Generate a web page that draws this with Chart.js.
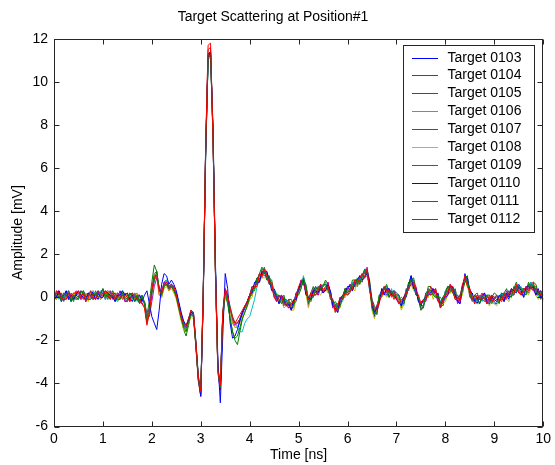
<!DOCTYPE html>
<html>
<head>
<meta charset="utf-8">
<script src="https://cdn.jsdelivr.net/npm/chart.js@4.4.1/dist/chart.umd.min.js"></script>
<style>
  html, body { margin: 0; padding: 0; background: #fff; }
  #wrap { width: 555px; height: 465px; }
</style>
</head>
<body>
<div id="wrap"><canvas id="chart" width="555" height="465"></canvas></div>
<script>
// time axis (ns)
const TIME_NS = [
  0, 0.05, 0.1, 0.15, 0.2, 0.25, 0.3, 0.35, 0.4, 0.45,
  0.5, 0.55, 0.6, 0.65, 0.7, 0.75, 0.8, 0.85, 0.9, 0.95,
  1.0, 1.05, 1.1, 1.15, 1.2, 1.25, 1.3, 1.35, 1.4, 1.45,
  1.5, 1.55, 1.6, 1.65, 1.7, 1.75, 1.8,
  1.85, 1.9, 1.95, 2.0, 2.05, 2.1, 2.15, 2.2, 2.25, 2.3,
  2.35, 2.4, 2.45, 2.5, 2.55, 2.6, 2.65, 2.7, 2.75, 2.8,
  2.85, 2.9, 2.95, 3.0, 3.05, 3.1, 3.15, 3.2, 3.25, 3.3,
  3.35, 3.4, 3.45, 3.5, 3.55, 3.6, 3.65, 3.7, 3.75, 3.8,
  3.85, 3.9, 3.95, 4.0,
  4.05, 4.1, 4.15, 4.2, 4.25, 4.3, 4.35, 4.4, 4.45, 4.5,
  4.55, 4.6, 4.65, 4.7, 4.75, 4.8, 4.85, 4.9, 4.95, 5.0,
  5.05, 5.1, 5.15, 5.2, 5.25, 5.3, 5.35, 5.4, 5.45, 5.5,
  5.55, 5.6, 5.65, 5.7, 5.75, 5.8, 5.85, 5.9, 5.95, 6.0,
  6.05, 6.1, 6.15, 6.2, 6.25, 6.3, 6.35, 6.4, 6.45, 6.5,
  6.55, 6.6, 6.65, 6.7, 6.75, 6.8, 6.85, 6.9, 6.95, 7.0,
  7.05, 7.1, 7.15, 7.2, 7.25, 7.3, 7.35, 7.4, 7.45, 7.5,
  7.55, 7.6, 7.65, 7.7, 7.75, 7.8, 7.85, 7.9, 7.95, 8.0,
  8.05, 8.1, 8.15, 8.2, 8.25, 8.3, 8.35, 8.4, 8.45, 8.5,
  8.55, 8.6, 8.65, 8.7, 8.75, 8.8, 8.85, 8.9, 8.95, 9.0,
  9.05, 9.1, 9.15, 9.2, 9.25, 9.3, 9.35, 9.4, 9.45, 9.5,
  9.55, 9.6, 9.65, 9.7, 9.75, 9.8, 9.85, 9.9, 9.95, 10.0,
];

const TARGET_LABELS = [
  'Target 0103', 'Target 0104', 'Target 0105', 'Target 0106', 'Target 0107',
  'Target 0108', 'Target 0109', 'Target 0110', 'Target 0111', 'Target 0112',
];

// amplitudes in mV, one value per TIME_NS entry
const TARGET_0103 = [
  0.2, 0.0, 0.2, -0.2, 0.0, 0.3, 0.0, -0.2, 0.1, 0.1,
  0.0, 0.3, 0.1, -0.2, 0.1, 0.0, 0.3, 0.1, -0.1, 0.2,
  0.2, -0.1, 0.3, 0.2, 0.0, 0.0, -0.2, 0.3, 0.0, 0.1,
  0.1, 0.0, -0.2, 0.2, -0.1, 0.0, -0.1,
  -0.2, -0.9, -0.6, 0.3, 0.8, 1.0, 0.4, 0.2, 0.7, 0.8,
  0.5, 0.6, 0.5, 0.0, -0.5, -1.0, -1.3, -1.5, -1.0, -0.7,
  -0.7, -2.1, -3.7, -4.5, 0.1, 6.9, 11.3, 11.4, 7.5, 1.3,
  -3.3, -4.3, -0.9, 0.3, 0.1, -0.6, -1.2, -1.4, -1.4, -1.1,
  -0.8, -0.5, -0.3, 0.1,
  0.1, 0.6, 0.9, 0.8, 1.1, 1.0, 1.1, 0.9, 0.5, 0.4,
  0.1, -0.3, -0.1, -0.1, -0.1, -0.4, -0.6, -0.3, 0.2, 0.2,
  0.6, 0.9, 0.2, 0.0, -0.2, 0.3, 0.5, 0.2, 0.4, 0.2,
  0.4, 0.4, 0.3, -0.3, -0.4, -0.3, -0.4, 0.1, 0.1, 0.3,
  0.6, 0.5, 0.5, 0.6, 1.0, 0.9, 1.2, 1.0, 0.6, -0.4,
  -0.9, -0.4, 0.0, 0.2, 0.2, 0.1, 0.3, 0.2, 0.3, 0.2,
  0.1, -0.4, -0.1, 0.0, 0.5, 1.0, 0.5, 0.1, 0.0, -0.4,
  -0.4, 0.2, 0.2, 0.1, 0.3, 0.1, 0.2, -0.3, -0.4, 0.2,
  0.3, 0.2, 0.5, 0.2, -0.2, -0.1, 0.2, 1.1, 0.6, 0.3,
  0.1, -0.1, -0.3, 0.1, -0.1, 0.1, -0.1, -0.2, 0.1, -0.3,
  -0.3, 0.0, 0.2, -0.1, 0.1, -0.1, 0.3, 0.4, 0.4, 0.6,
  0.4, 0.0, 0.3, 0.5, 0.7, 0.4, 0.1, 0.2, 0.3, -0.1,
];
const TARGET_0104 = [
  -0.1, 0.3, 0.1, -0.2, 0.1, 0.0, 0.3, 0.0, -0.2, 0.2,
  0.1, -0.1, 0.3, 0.1, -0.1, 0.1, -0.1, 0.3, 0.0, 0.2,
  0.3, 0.1, -0.1, 0.3, 0.0, 0.1, 0.0, 0.0, 0.3, -0.2,
  -0.2, 0.1, 0.2, -0.1, 0.0, -0.3, 0.0,
  -0.2, -0.8, -0.2, 0.7, 1.5, 1.2, 0.3, 0.0, 0.5, 0.6,
  0.5, 0.5, 0.3, 0.1, -0.4, -1.0, -1.5, -1.8, -1.3, -0.8,
  -0.9, -2.2, -3.8, -4.5, 0.0, 6.6, 11.0, 11.3, 7.8, 1.4,
  -3.2, -4.2, -1.0, 0.1, -0.3, -1.0, -1.6, -2.0, -2.2, -1.6,
  -1.0, -0.7, -0.4, -0.1,
  0.5, 0.4, 0.8, 1.1, 1.4, 1.2, 0.9, 0.9, 0.8, 0.2,
  0.1, 0.1, -0.1, 0.1, -0.4, -0.1, -0.1, -0.3, 0.1, 0.2,
  0.6, 0.8, 0.6, -0.1, 0.2, 0.5, 0.2, 0.5, 0.4, 0.5,
  0.8, 0.6, 0.1, -0.3, -0.2, -0.4, 0.0, -0.1, 0.4, 0.3,
  0.3, 0.8, 0.8, 0.8, 0.8, 0.8, 1.3, 1.3, 0.8, -0.1,
  -0.4, -0.6, 0.1, 0.1, 0.4, 0.6, 0.2, 0.1, 0.3, 0.2,
  -0.1, 0.0, -0.1, 0.1, 0.7, 0.8, 0.9, 0.4, -0.2, -0.2,
  -0.2, -0.1, 0.5, 0.5, 0.2, 0.3, -0.1, 0.0, -0.2, 0.3,
  0.5, 0.5, 0.2, 0.4, -0.1, 0.1, 0.5, 0.9, 1.0, 0.1,
  -0.1, 0.1, 0.2, -0.1, 0.1, -0.1, 0.1, 0.1, 0.0, 0.2,
  0.1, -0.2, 0.1, 0.2, 0.4, 0.1, 0.1, 0.4, 0.7, 0.4,
  0.4, 0.4, 0.3, 0.7, 0.4, 0.7, 0.6, 0.2, 0.2, -0.1,
];
const TARGET_0105 = [
  0.0, -0.1, 0.3, 0.1, -0.1, 0.1, -0.1, 0.2, -0.1, 0.2,
  0.2, 0.1, -0.1, 0.2, -0.1, 0.2, 0.1, 0.0, 0.3, -0.1,
  0.0, 0.2, 0.3, 0.0, 0.1, -0.2, 0.1, 0.2, 0.1, 0.2,
  0.1, -0.2, 0.0, 0.1, 0.2, -0.2, -0.3,
  -0.4, -1.2, -0.6, 0.3, 0.9, 1.0, 0.1, 0.1, 0.6, 0.6,
  0.3, 0.5, 0.4, 0.1, -0.3, -0.9, -1.2, -1.3, -1.1, -0.6,
  -0.7, -2.3, -3.9, -4.6, -0.1, 6.9, 11.5, 11.6, 7.6, 1.1,
  -3.5, -4.3, -0.8, 0.2, -0.1, -0.5, -1.0, -1.2, -1.2, -1.0,
  -0.7, -0.5, -0.2, 0.1,
  0.3, 0.6, 0.6, 1.1, 0.9, 1.3, 1.2, 0.7, 0.5, 0.0,
  -0.1, -0.2, 0.1, -0.2, -0.2, -0.1, -0.6, -0.2, -0.1, 0.3,
  0.8, 0.8, 0.2, -0.3, 0.2, 0.2, 0.4, 0.1, 0.5, 0.3,
  0.3, 0.7, 0.2, -0.3, -0.6, -0.7, -0.1, 0.0, 0.4, 0.4,
  0.6, 0.4, 0.7, 0.5, 0.8, 1.1, 1.0, 1.0, 0.6, -0.3,
  -0.8, -0.4, -0.1, 0.0, 0.4, 0.2, 0.4, 0.2, -0.1, 0.2,
  -0.1, -0.5, 0.0, 0.3, 0.4, 0.8, 0.4, 0.5, -0.2, -0.3,
  -0.2, 0.0, 0.0, 0.5, 0.1, 0.3, 0.0, -0.4, 0.0, -0.1,
  0.1, 0.5, 0.5, 0.0, -0.1, -0.3, 0.5, 1.0, 0.7, 0.4,
  0.1, -0.3, -0.1, 0.0, 0.2, -0.1, -0.3, -0.1, 0.1, -0.2,
  -0.1, 0.0, -0.1, 0.2, -0.1, 0.2, 0.4, 0.2, 0.4, 0.2,
  0.2, 0.1, 0.5, 0.4, 0.6, 0.7, 0.1, 0.3, 0.0, 0.0,
];
const TARGET_0106 = [
  0.1, 0.1, -0.1, 0.2, -0.1, 0.2, 0.1, -0.1, 0.2, -0.1,
  -0.1, 0.2, 0.3, -0.1, 0.0, -0.1, 0.2, 0.2, 0.1, 0.3,
  0.3, -0.1, 0.1, 0.2, 0.3, -0.1, -0.2, 0.1, 0.3, -0.1,
  0.0, 0.1, -0.1, 0.2, -0.2, 0.0, 0.1,
  -0.3, -0.9, -0.7, 0.1, 0.8, 1.0, 0.4, 0.2, 0.5, 0.8,
  0.5, 0.6, 0.4, 0.2, -0.3, -0.8, -1.2, -1.5, -1.2, -0.8,
  -0.8, -2.0, -3.6, -4.4, 0.2, 7.0, 11.2, 11.3, 7.4, 1.2,
  -3.4, -4.1, -0.8, 0.1, 0.0, -0.4, -0.9, -1.2, -1.4, -1.6,
  -1.6, -1.2, -1.0, -0.9,
  -0.5, -0.1, 0.5, 0.8, 1.0, 1.2, 0.8, 0.9, 0.4, 0.2,
  0.2, -0.1, -0.2, -0.3, -0.1, -0.3, -0.3, -0.5, 0.1, 0.2,
  0.4, 1.0, 0.4, -0.2, -0.1, 0.0, 0.4, 0.3, 0.6, 0.5,
  0.7, 0.4, 0.2, -0.5, -0.5, -0.3, -0.3, -0.2, 0.3, 0.3,
  0.3, 0.7, 0.6, 0.5, 0.9, 0.8, 1.3, 1.2, 0.3, -0.2,
  -0.7, -0.8, 0.1, 0.3, 0.2, 0.3, 0.0, 0.4, 0.0, 0.2,
  0.0, -0.3, -0.4, 0.4, 0.4, 0.9, 0.6, 0.2, 0.1, -0.6,
  -0.5, 0.1, 0.4, 0.2, 0.2, 0.0, 0.1, -0.2, -0.2, 0.3,
  0.4, 0.2, 0.3, 0.2, 0.1, -0.2, 0.2, 0.9, 0.9, 0.1,
  0.0, 0.0, -0.2, 0.1, -0.2, 0.1, 0.1, -0.2, -0.1, -0.3,
  -0.2, -0.2, 0.2, 0.0, 0.2, 0.3, 0.0, 0.4, 0.3, 0.4,
  0.5, 0.2, 0.2, 0.3, 0.7, 0.5, 0.4, 0.0, 0.2, -0.1,
];
const TARGET_0107 = [
  -0.2, 0.2, 0.3, -0.1, 0.0, -0.1, 0.2, 0.1, 0.0, 0.3,
  0.2, -0.1, 0.1, 0.1, 0.2, 0.0, -0.1, 0.1, 0.3, 0.0,
  0.2, 0.2, 0.0, 0.3, -0.1, 0.1, 0.2, 0.0, 0.1, -0.2,
  -0.1, -0.1, 0.2, 0.0, 0.1, 0.1, -0.3,
  -0.2, -1.0, -0.9, -0.2, 0.5, 0.9, 0.5, 0.2, 0.7, 0.6,
  0.4, 0.6, 0.4, 0.1, -0.4, -0.9, -1.3, -1.4, -1.1, -0.7,
  -0.8, -2.2, -3.8, -4.5, 0.0, 6.8, 11.1, 11.3, 7.5, 1.2,
  -3.4, -4.2, -0.8, 0.3, 0.0, -0.6, -1.1, -1.3, -1.2, -1.0,
  -0.7, -0.5, -0.2, 0.1,
  0.5, 0.5, 0.6, 0.8, 1.3, 1.2, 1.1, 0.6, 0.6, 0.1,
  -0.2, 0.1, 0.0, -0.2, -0.4, -0.5, -0.3, -0.3, 0.2, 0.4,
  0.8, 0.7, 0.4, -0.4, 0.0, 0.4, 0.2, 0.1, 0.5, 0.4,
  0.4, 0.7, 0.1, -0.5, -0.4, -0.6, 0.0, 0.0, 0.0, 0.4,
  0.4, 0.3, 0.8, 0.8, 0.7, 0.9, 0.9, 1.4, 0.4, -0.2,
  -0.6, -0.6, -0.3, 0.4, 0.2, 0.4, 0.2, 0.1, 0.3, -0.1,
  -0.3, -0.2, 0.0, 0.1, 0.5, 0.6, 0.7, 0.4, -0.1, -0.2,
  -0.2, -0.2, 0.2, 0.4, 0.4, 0.1, -0.2, -0.3, 0.0, 0.0,
  0.3, 0.5, 0.2, 0.3, -0.3, 0.0, 0.6, 0.8, 0.7, 0.0,
  -0.1, -0.2, 0.1, -0.1, 0.1, 0.2, -0.3, 0.0, -0.2, -0.1,
  0.1, -0.1, -0.1, -0.1, 0.3, 0.1, 0.3, 0.1, 0.5, 0.3,
  0.1, 0.4, 0.4, 0.4, 0.4, 0.3, 0.4, 0.2, 0.3, 0.1,
];
const TARGET_0108 = [
  0.1, -0.1, 0.1, 0.1, 0.2, 0.0, -0.1, 0.0, 0.2, 0.0,
  0.1, 0.2, 0.0, 0.2, -0.2, 0.2, 0.3, 0.0, 0.1, -0.1,
  0.1, 0.0, 0.3, 0.1, 0.2, 0.2, -0.2, 0.2, 0.0, 0.0,
  0.2, 0.0, -0.1, -0.1, 0.2, -0.1, 0.0,
  -0.4, -1.1, -0.5, 0.3, 0.9, 1.1, 0.2, 0.0, 0.4, 0.5,
  0.3, 0.4, 0.2, -0.1, -0.6, -1.1, -1.5, -1.6, -1.2, -0.9,
  -1.0, -2.3, -3.9, -4.5, 0.0, 6.7, 11.0, 11.2, 7.5, 1.1,
  -3.5, -4.2, -0.9, 0.1, -0.1, -0.7, -1.2, -1.4, -1.4, -1.2,
  -0.9, -0.7, -0.4, -0.1,
  0.0, 0.6, 0.7, 0.8, 0.9, 0.9, 1.0, 0.7, 0.6, 0.2,
  0.1, -0.3, -0.1, -0.5, -0.4, -0.2, -0.6, -0.6, 0.0, 0.2,
  0.4, 0.9, 0.2, -0.5, 0.0, 0.0, 0.4, 0.2, 0.1, 0.4,
  0.4, 0.2, 0.2, -0.3, -0.7, -0.6, -0.5, 0.1, 0.0, 0.3,
  0.4, 0.4, 0.3, 0.8, 0.6, 0.9, 1.0, 1.0, 0.6, -0.6,
  -1.0, -0.6, 0.0, 0.0, 0.2, 0.0, 0.2, 0.2, 0.0, 0.2,
  -0.1, -0.6, -0.3, 0.2, 0.6, 0.6, 0.3, 0.2, 0.0, -0.6,
  -0.4, 0.0, 0.0, 0.4, -0.1, 0.2, 0.1, -0.5, -0.3, -0.2,
  0.1, 0.2, 0.4, 0.0, -0.1, 0.0, 0.1, 0.9, 0.5, 0.1,
  0.1, -0.2, -0.3, -0.3, 0.1, -0.1, -0.1, -0.4, -0.1, -0.3,
  -0.4, 0.0, 0.0, -0.1, -0.1, -0.2, 0.2, 0.2, 0.5, 0.4,
  0.4, 0.0, 0.3, 0.1, 0.4, 0.6, 0.1, -0.1, 0.1, -0.1,
];
const TARGET_0109 = [
  0.0, 0.2, 0.0, 0.2, -0.2, 0.2, 0.3, -0.1, 0.0, -0.1,
  0.0, 0.0, 0.3, 0.0, 0.1, 0.3, -0.1, 0.2, 0.0, 0.1,
  0.4, 0.1, 0.0, 0.0, 0.3, 0.0, 0.1, -0.1, 0.2, -0.1,
  -0.2, 0.2, 0.1, 0.0, -0.1, -0.3, 0.0,
  -0.3, -1.0, -0.4, 0.4, 1.1, 1.2, 0.3, 0.2, 0.6, 0.7,
  0.4, 0.6, 0.4, 0.2, -0.3, -0.8, -1.2, -1.4, -1.0, -0.6,
  -0.8, -2.1, -3.7, -4.4, 0.1, 6.9, 11.2, 11.4, 7.6, 1.3,
  -3.3, -4.1, -0.7, 0.4, 0.1, -0.5, -1.0, -1.2, -1.2, -1.0,
  -0.7, -0.5, -0.2, 0.1,
  0.5, 0.4, 0.8, 0.7, 1.1, 1.4, 0.9, 0.6, 0.6, 0.2,
  -0.1, 0.1, -0.1, -0.4, -0.2, -0.4, -0.2, -0.3, -0.2, 0.4,
  0.6, 0.6, 0.5, -0.1, -0.1, 0.2, 0.1, 0.5, 0.3, 0.5,
  0.6, 0.5, -0.1, -0.1, -0.6, -0.4, -0.2, -0.1, 0.4, 0.1,
  0.2, 0.6, 0.8, 0.6, 0.8, 0.7, 1.2, 1.3, 0.5, -0.1,
  -0.6, -0.8, -0.1, 0.3, 0.5, 0.2, 0.0, 0.2, 0.3, 0.0,
  -0.1, -0.2, -0.3, 0.4, 0.3, 0.9, 0.8, 0.2, -0.1, -0.6,
  -0.4, -0.1, 0.4, 0.3, 0.3, 0.4, -0.2, -0.2, -0.3, 0.1,
  0.5, 0.4, 0.2, 0.0, 0.1, -0.1, 0.5, 0.7, 0.8, 0.1,
  -0.2, 0.1, 0.0, -0.1, -0.1, -0.2, 0.0, -0.1, 0.1, 0.0,
  0.1, -0.2, 0.1, -0.2, 0.1, 0.3, 0.1, 0.1, 0.5, 0.4,
  0.2, 0.4, 0.3, 0.2, 0.6, 0.4, 0.5, 0.2, -0.1, 0.1,
];
const TARGET_0110 = [
  -0.1, 0.0, 0.3, 0.0, 0.1, 0.3, -0.1, 0.1, -0.1, 0.1,
  0.3, 0.1, 0.0, -0.1, 0.2, 0.1, 0.2, -0.1, 0.2, 0.0,
  0.0, 0.3, 0.2, 0.1, 0.0, -0.2, 0.1, 0.1, 0.3, 0.1,
  0.2, -0.1, 0.1, -0.2, 0.0, 0.1, -0.2,
  0.1, 0.3, -0.3, -0.9, -1.2, -1.5, -0.6, 0.6, 1.1, 1.0,
  0.6, 0.8, 0.6, 0.3, -0.2, -0.7, -1.1, -1.3, -1.1, -0.7,
  -0.8, -2.2, -3.8, -4.6, -0.2, 6.6, 11.1, 11.4, 7.9, 1.6,
  -3.0, -4.9, -1.8, 1.1, 0.4, -1.2, -1.9, -1.8, -1.5, -1.1,
  -0.7, -0.4, -0.2, 0.1,
  0.2, 0.7, 0.7, 0.7, 1.2, 1.1, 1.2, 0.8, 0.3, 0.3,
  0.0, -0.3, 0.1, -0.1, -0.4, -0.3, -0.6, -0.1, -0.1, 0.4,
  0.7, 0.8, 0.1, 0.0, -0.1, 0.3, 0.3, 0.2, 0.6, 0.2,
  0.3, 0.6, 0.3, -0.4, -0.5, -0.7, -0.1, 0.1, 0.2, 0.5,
  0.5, 0.3, 0.6, 0.8, 1.0, 0.8, 0.9, 1.2, 0.7, -0.4,
  -0.7, -0.5, -0.2, 0.4, 0.1, 0.4, 0.4, 0.1, 0.1, -0.1,
  -0.2, -0.4, 0.0, 0.2, 0.6, 1.0, 0.4, 0.4, -0.2, -0.4,
  -0.1, 0.0, 0.1, 0.2, 0.4, 0.2, 0.1, -0.5, -0.1, 0.0,
  0.1, 0.6, 0.4, 0.1, -0.2, -0.3, 0.5, 0.9, 0.9, 0.3,
  0.2, -0.2, 0.0, -0.3, 0.0, 0.2, -0.2, -0.3, 0.0, -0.1,
  -0.2, 0.1, 0.0, -0.2, 0.2, 0.0, 0.4, 0.3, 0.2, 0.5,
  0.3, 0.0, 0.5, 0.5, 0.4, 0.5, 0.1, 0.4, 0.0, 0.1,
];
const TARGET_0111 = [
  0.2, 0.1, 0.0, -0.1, 0.2, 0.1, 0.2, -0.2, 0.1, 0.0,
  -0.1, 0.3, 0.2, 0.0, -0.1, -0.1, 0.2, 0.1, 0.3, 0.2,
  0.4, 0.0, 0.2, -0.1, 0.1, 0.2, -0.1, -0.1, 0.2, 0.0,
  -0.1, 0.2, 0.0, -0.2, 0.1, -0.2, 0.1,
  -0.3, -1.2, -0.7, 0.2, 0.8, 1.2, 0.4, 0.1, 0.5, 0.6,
  0.4, 0.5, 0.3, 0.0, -0.5, -1.0, -1.4, -1.6, -1.2, -0.8,
  -0.9, -2.2, -3.8, -4.4, 0.0, 6.8, 11.1, 11.3, 7.6, 1.2,
  -3.4, -4.2, -0.8, 0.2, -0.2, -1.0, -1.6, -1.9, -1.8, -1.4,
  -1.0, -0.7, -0.4, 0.0,
  0.3, 0.3, 0.9, 1.0, 1.0, 1.2, 0.8, 1.0, 0.4, 0.3,
  0.1, -0.1, -0.3, 0.0, -0.4, -0.2, -0.4, -0.4, 0.2, 0.1,
  0.4, 0.9, 0.5, -0.3, 0.0, 0.0, 0.4, 0.4, 0.4, 0.6,
  0.6, 0.3, 0.1, -0.2, -0.3, -0.6, -0.4, 0.0, 0.4, 0.2,
  0.4, 0.6, 0.5, 0.9, 0.6, 1.0, 1.3, 1.1, 0.5, -0.5,
  -0.8, -0.7, 0.1, 0.2, 0.4, 0.5, 0.0, 0.3, 0.0, 0.1,
  0.1, -0.3, -0.3, 0.1, 0.7, 0.8, 0.7, 0.1, 0.0, -0.5,
  -0.5, 0.2, 0.3, 0.3, 0.1, 0.0, 0.1, -0.3, 0.0, 0.2,
  0.5, 0.3, 0.4, -0.1, -0.1, 0.1, 0.3, 0.7, 0.8, 0.2,
  -0.1, 0.1, -0.1, -0.3, 0.1, -0.1, 0.1, -0.1, -0.3, 0.0,
  -0.1, -0.3, 0.2, 0.1, 0.0, 0.1, 0.0, 0.5, 0.3, 0.5,
  0.4, 0.2, 0.1, 0.6, 0.4, 0.6, 0.3, 0.1, 0.3, -0.2,
];
const TARGET_0112 = [
  -0.2, 0.3, 0.2, 0.0, -0.1, -0.1, 0.2, 0.0, 0.2, 0.2,
  0.3, 0.0, 0.2, -0.2, 0.0, 0.3, 0.0, -0.1, 0.2, 0.1,
  0.1, 0.3, 0.1, -0.1, 0.2, -0.1, 0.2, 0.1, -0.1, 0.1,
  0.0, -0.2, 0.2, 0.1, -0.1, -0.1, -0.3,
  -0.5, -1.3, -0.7, 0.3, 1.0, 1.0, 0.3, 0.2, 0.6, 0.7,
  0.5, 0.6, 0.5, 0.1, -0.4, -0.9, -1.2, -1.3, -1.0, -0.6,
  -0.7, -2.1, -3.7, -4.4, 0.2, 7.0, 11.7, 11.8, 7.5, 1.2,
  -3.4, -4.1, -0.7, 0.4, 0.1, -0.5, -0.9, -1.2, -1.0, -0.8,
  -0.6, -0.4, -0.2, 0.1,
  0.4, 0.5, 0.5, 1.1, 1.0, 1.3, 1.0, 0.7, 0.7, 0.0,
  -0.2, 0.0, 0.1, -0.3, -0.3, -0.5, -0.3, -0.2, 0.0, 0.5,
  0.7, 0.6, 0.3, -0.1, 0.2, 0.1, 0.1, 0.3, 0.6, 0.3,
  0.5, 0.6, 0.0, -0.1, -0.7, -0.4, 0.0, -0.1, 0.2, 0.1,
  0.3, 0.4, 0.8, 0.7, 0.9, 1.1, 0.9, 1.3, 0.4, -0.3,
  -0.5, -0.6, -0.2, 0.1, 0.5, 0.3, 0.3, 0.0, 0.2, 0.0,
  -0.3, -0.1, -0.1, 0.2, 0.4, 0.6, 0.7, 0.3, 0.1, -0.3,
  -0.1, -0.1, 0.3, 0.1, 0.2, 0.4, -0.1, -0.5, -0.1, 0.1,
  0.2, 0.6, 0.3, -0.1, 0.0, -0.2, 0.6, 0.9, 0.5, 0.3,
  0.0, -0.3, 0.1, 0.0, -0.1, 0.0, -0.3, 0.1, -0.2, 0.0,
  0.0, -0.1, -0.2, 0.2, 0.0, 0.2, 0.2, 0.2, 0.6, 0.2,
  0.1, 0.3, 0.5, 0.3, 0.5, 0.3, 0.4, 0.3, 0.1, 0.2,
];

const SERIES = [
  TARGET_0103, TARGET_0104, TARGET_0105, TARGET_0106, TARGET_0107,
  TARGET_0108, TARGET_0109, TARGET_0110, TARGET_0111, TARGET_0112,
];

// MATLAB default line colour order
const LINE_COLORS = [
  '#0000ff', '#008000', '#ff0000', '#00bfbf', '#bf00bf',
  '#bfbf00', '#555555', '#0000ff', '#008000', '#ff0000',
];

const FONT = 'Liberation Sans, Arial, Helvetica, sans-serif';
const AXIS_COLOR = '#262626';

// inward ticks on all four sides + box, like a MATLAB axes
const boxAxes = {
  id: 'boxAxes',
  afterDatasetsDraw(chart) {
    const { ctx, chartArea: a, scales } = chart;
    const L = Math.round(a.left) + 0.5, R = Math.round(a.right) - 0.5;
    const T = Math.round(a.top) + 0.5, B = Math.round(a.bottom) - 0.5;
    const len = 5;
    ctx.save();
    ctx.strokeStyle = AXIS_COLOR;
    ctx.lineWidth = 1;
    ctx.beginPath();
    scales.x.ticks.forEach((t) => {
      const px = Math.round(scales.x.getPixelForValue(t.value)) + 0.5;
      ctx.moveTo(px, B); ctx.lineTo(px, B - len);
      ctx.moveTo(px, T); ctx.lineTo(px, T + len);
    });
    scales.y.ticks.forEach((t) => {
      const py = Math.round(scales.y.getPixelForValue(t.value)) + 0.5;
      ctx.moveTo(L, py); ctx.lineTo(L + len, py);
      ctx.moveTo(R, py); ctx.lineTo(R - len, py);
    });
    ctx.stroke();
    ctx.strokeRect(L, T, R - L, B - T);
    ctx.restore();
  },
};

// boxed legend in the upper right corner of the plot
const boxLegend = {
  id: 'boxLegend',
  afterDraw(chart) {
    const { ctx, chartArea: a } = chart;
    const w = 131, h = 187, rowH = 17.96;
    const x0 = Math.round(a.right - 9 - w) + 0.5;
    const y0 = Math.round(a.top + 6) + 0.5;
    ctx.save();
    ctx.fillStyle = '#ffffff';
    ctx.fillRect(x0, y0, w, h);
    ctx.lineWidth = 1;
    ctx.strokeStyle = AXIS_COLOR;
    ctx.strokeRect(x0, y0, w, h);
    ctx.font = '14px ' + FONT;
    ctx.textBaseline = 'middle';
    ctx.textAlign = 'left';
    TARGET_LABELS.forEach((label, i) => {
      const cy = Math.round(y0 + 12 + i * rowH);
      // sample line as a 1px filled strip
      ctx.fillStyle = LINE_COLORS[i];
      ctx.fillRect(Math.round(x0 + 8), cy, 26, 1);
      ctx.fillStyle = '#000';
      ctx.fillText(label, x0 + 44, cy + 0.5);
    });
    ctx.restore();
  },
};

const datasets = SERIES.map((vals, i) => ({
  label: TARGET_LABELS[i],
  data: TIME_NS.map((t, k) => ({ x: t, y: vals[k] })),
  borderColor: LINE_COLORS[i],
  backgroundColor: LINE_COLORS[i],
  borderWidth: 1,
  pointRadius: 0,
  tension: 0,
  fill: false,
  order: SERIES.length - 1 - i, // last target ends up on top
}));

new Chart(document.getElementById('chart'), {
  type: 'line',
  data: { datasets },
  options: {
    responsive: false,
    animation: false,
    events: [],
    layout: { padding: { left: 0, right: 9, top: 0, bottom: 0 } },
    plugins: {
      legend: { display: false },
      tooltip: { enabled: false },
      title: {
        display: true,
        text: 'Target Scattering at Position#1',
        color: '#000',
        font: { family: FONT, size: 14, weight: 'normal' },
        padding: { top: 9, bottom: 13 },
      },
    },
    scales: {
      x: {
        type: 'linear',
        min: 0,
        max: 10,
        grid: { display: false, drawTicks: false },
        border: { display: false },
        ticks: {
          stepSize: 1,
          autoSkip: false,
          maxRotation: 0,
          padding: 4,
          color: '#000',
          font: { family: FONT, size: 14 },
        },
        title: {
          display: true,
          text: 'Time [ns]',
          color: '#000',
          font: { family: FONT, size: 14 },
          padding: { top: 0, bottom: 1.5 },
        },
        afterFit: (s) => { s.height = 38.5; },
      },
      y: {
        type: 'linear',
        min: -6,
        max: 12,
        grid: { display: false, drawTicks: false },
        border: { display: false },
        ticks: {
          stepSize: 2,
          padding: 6,
          color: '#000',
          font: { family: FONT, size: 14 },
        },
        title: {
          display: true,
          text: 'Amplitude [mV]',
          color: '#000',
          font: { family: FONT, size: 14 },
          padding: { top: 9.6, bottom: 0 },
        },
        afterFit: (s) => { s.width = 54; },
      },
    },
  },
  plugins: [boxAxes, boxLegend],
});
</script>
</body>
</html>
